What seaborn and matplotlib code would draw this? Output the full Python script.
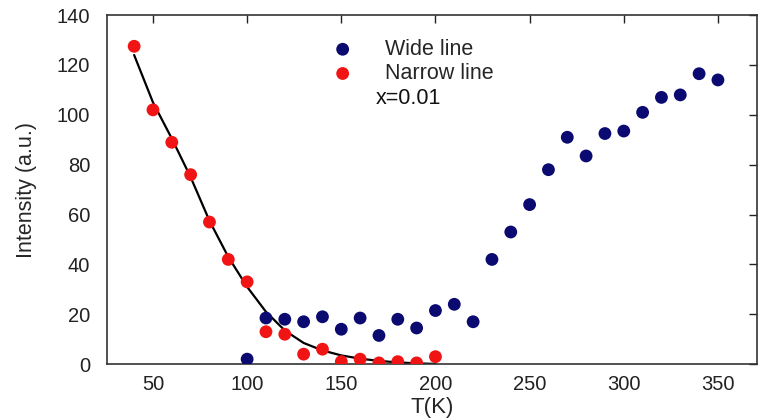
import matplotlib
matplotlib.use("Agg")
import matplotlib.pyplot as plt
import seaborn as sns
import pandas as pd

# Narrow line (red)
narrow_T = [40, 50, 60, 70, 80, 90, 100, 110, 120, 130, 140, 150, 160, 170, 180, 190, 200]
narrow_I = [127.5, 102, 89, 76, 57, 42, 33, 13, 12, 4, 6, 1, 2, 0.5, 1, 0.5, 3]

# Wide line (blue)
wide_T = [100, 110, 120, 130, 140, 150, 160, 170, 180, 190, 200, 210, 220, 230, 240,
          250, 260, 270, 280, 290, 300, 310, 320, 330, 340, 350]
wide_I = [2, 18.5, 18, 17, 19, 14, 18.5, 11.5, 18, 14.5, 21.5, 24, 17, 42, 53,
          64, 78, 91, 83.5, 92.5, 93.5, 101, 107, 108, 116.5, 114]

# Fit curve
fit_T = [40, 50, 60, 70, 80, 90, 100, 110, 120, 130, 140, 150, 160, 170, 180, 190, 200]
fit_I = [124, 105, 90.5, 75, 57.5, 43, 31, 21, 13.5, 8.5, 5.5, 3.5, 2.2, 1.3, 0.7, 0.3, 0.1]

x_ticks = [50, 100, 150, 200, 250, 300, 350]
y_ticks = [0, 20, 40, 60, 80, 100, 120, 140]

sns.set_style("white")
plt.rcParams['font.family'] = ['Liberation Sans', 'DejaVu Sans']

fig = plt.figure(figsize=(7.59, 4.2), dpi=100)
ax = fig.add_axes([0.141, 0.133, 0.857, 0.831])

df_n = pd.DataFrame({"T": narrow_T, "I": narrow_I})
df_w = pd.DataFrame({"T": wide_T, "I": wide_I})
df_f = pd.DataFrame({"T": fit_T, "I": fit_I})

sns.lineplot(data=df_f, x="T", y="I", ax=ax, color="black", linewidth=1.6)
sns.scatterplot(data=df_w, x="T", y="I", ax=ax, color="#0a0a70", s=85,
                edgecolor="none", label="Wide line", zorder=3)
sns.scatterplot(data=df_n, x="T", y="I", ax=ax, color="#f01414", s=85,
                edgecolor="none", label="Narrow line", zorder=3)

ax.set_xlim(25.6, 371)
ax.set_ylim(0, 140)
ax.set_xticks(x_ticks)
ax.set_yticks(y_ticks)
ax.tick_params(direction="in", length=6, width=1, top=True, right=True,
               labelsize=14.5, colors="#222222")
ax.tick_params(axis="y", pad=12)
ax.tick_params(axis="x", pad=8)
for sp in ax.spines.values():
    sp.set_visible(True)
    sp.set_color("#333333")
    sp.set_linewidth(1.2)

ax.set_xlabel("T(K)", fontsize=16, labelpad=2)
ax.set_ylabel("Intensity (a.u.)", fontsize=15.5, labelpad=14,
              family=["Liberation Sans Narrow", "Liberation Sans"])

leg = ax.legend(loc="upper left", bbox_to_anchor=(0.306, 0.975), frameon=False,
                fontsize=15.5, handletextpad=0.95, labelspacing=0.15, markerscale=1.0,
                borderpad=0.2)
ax.text(0.413, 0.762, "x=0.01", transform=ax.transAxes, fontsize=15.5,
        color="#111111", va="center")

fig.savefig("out.png", dpi=100)
